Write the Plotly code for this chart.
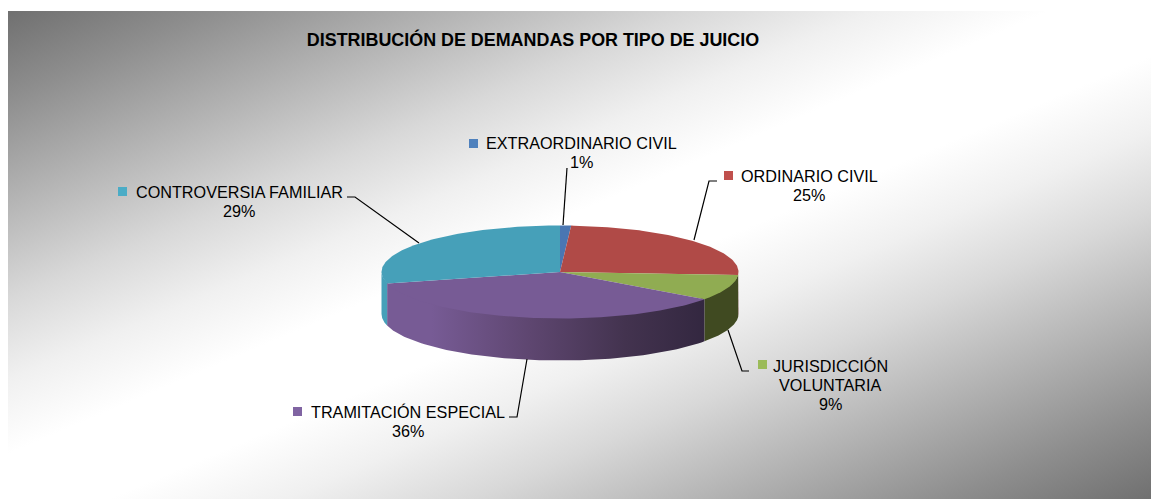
import base64
import numpy as np
import plotly.graph_objects as go

categories = ["EXTRAORDINARIO CIVIL", "ORDINARIO CIVIL", "JURISDICCIÓN<br>VOLUNTARIA",
              "TRAMITACIÓN ESPECIAL", "CONTROVERSIA FAMILIAR"]
values = [1, 25, 9, 36, 29]
top_colors = ["#4a76b2", "#b04a47", "#90ac52", "#775b95", "#46a0b9"]
key_colors = ["#4f81bd", "#c0504d", "#9bbb59", "#8064a2", "#4bacc6"]
wall_colors = ["#2a4468", "#6a2c2a", "#404a21", "#775b95", "#46a0b9"]
title = "DISTRIBUCIÓN DE DEMANDAS POR TIPO DE JUICIO"

W, H = 1151, 499
CX, CY, RX, RY, DEPTH = 560, 272, 178.5, 46.5, 42
FONT = "Liberation Sans"

# background
x0, y0 = 8, 11
mx, my = (x0 + W) / 2, (y0 + H) / 2
dx, dy = 0.391, 0.92
L = 448
stops = [(0, "#707070"), (0.09, "#8e8e8e"), (0.296, "#d8d8d8"), (0.378, "#f0f0f0"), (0.455, "#ffffff"),
         (0.545, "#ffffff"), (0.622, "#f0f0f0"), (0.704, "#d8d8d8"), (0.91, "#8e8e8e"), (1, "#707070")]
stop_xml = "".join(f'<stop offset="{o}" stop-color="{c}"/>' for o, c in stops)
svg = f'''<svg xmlns="http://www.w3.org/2000/svg" width="{W}" height="{H}" viewBox="0 0 {W} {H}">
<defs><linearGradient id="g" gradientUnits="userSpaceOnUse" x1="{mx-dx*L}" y1="{my-dy*L}" x2="{mx+dx*L}" y2="{my+dy*L}">
{stop_xml}
</linearGradient></defs>
<rect x="{x0}" y="{y0}" width="{W-x0}" height="{H-y0}" fill="url(#g)"/></svg>'''
bg = "data:image/svg+xml;base64," + base64.b64encode(svg.encode()).decode()


def pt(a, dz=0.0):
    return CX + RX * np.sin(a), CY - RY * np.cos(a) + dz


fracs = np.array(values) / sum(values)
ends = np.cumsum(fracs) * 2 * np.pi
starts = ends - fracs * 2 * np.pi

fig = go.Figure()

# walls (front half only); the upper edge runs a little under the top faces to avoid a seam
for i in range(len(values)):
    a0, a1 = max(starts[i], np.pi / 2), min(ends[i], 3 * np.pi / 2)
    if a1 <= a0:
        continue
    a = np.linspace(a0, a1, 80)
    xt, yt = pt(a, 3 * np.cos(a))
    xb, yb = pt(a[::-1], DEPTH)
    kw = dict(fillcolor=wall_colors[i])
    if i == 3:
        x_a, x_b = float(xt.min()), float(xt.max())
        kw = dict(fillgradient=dict(
            type="horizontal", start=x_a, stop=x_b,
            colorscale=[[0, "#775b95"], [0.14, "#775b95"], [0.45, "#5e4670"],
                        [0.75, "#43334f"], [1, "#332740"]]))
    fig.add_trace(go.Scatter(x=np.r_[xt, xb], y=np.r_[yt, yb], mode="lines", fill="toself",
                             line=dict(width=0), hoverinfo="skip", showlegend=False, **kw))

# top faces
for i in range(len(values)):
    a = np.linspace(starts[i], ends[i], max(int(fracs[i] * 400), 8))
    xt, yt = pt(a)
    fig.add_trace(go.Scatter(x=np.r_[CX, xt, CX], y=np.r_[CY, yt, CY], mode="lines", fill="toself",
                             fillcolor=top_colors[i], line=dict(width=0),
                             hoverinfo="skip", showlegend=False))

# leader lines
leaders = [
    [(567, 168), (563, 225)],
    [(717, 181), (709, 181), (694, 240)],
    [(749, 371), (742, 371), (728, 330)],
    [(509, 417), (517, 417), (527, 359)],
    [(347, 197), (355, 197), (419, 243)],
]
shapes = []
for pts in leaders:
    path = "M " + " L ".join(f"{x} {y}" for x, y in pts)
    shapes.append(dict(type="path", path=path, line=dict(color="#000000", width=1.2), layer="above"))

# legend keys
keys = [(469, 139), (724, 171), (758, 360), (293, 407), (118, 187)]
for (kx, ky), c in zip(keys, key_colors):
    shapes.append(dict(type="rect", x0=kx, x1=kx + 9, y0=ky, y1=ky + 9, fillcolor=c, line=dict(width=0)))

# labels: centre x, vertical centre of the first line
label_pos = [(581, 143), (809, 176), (830, 366), (408, 412), (239, 192)]
LINE = 19
ann = []
for cat, v, (lx, ly) in zip(categories, values, label_pos):
    for j, line in enumerate(cat.split("<br>") + [f"{v}%"]):
        ann.append(dict(x=lx, y=ly + j * LINE, xref="x", yref="y", xanchor="center", yanchor="middle",
                        showarrow=False, text=line,
                        font=dict(family=FONT, size=16.2, color="#000000")))

fig.update_layout(
    width=W, height=H, margin=dict(l=0, r=0, t=0, b=0),
    paper_bgcolor="white", plot_bgcolor="rgba(0,0,0,0)",
    xaxis=dict(range=[0, W], visible=False, fixedrange=True),
    yaxis=dict(range=[H, 0], visible=False, fixedrange=True),
    images=[dict(source=bg, xref="paper", yref="paper", x=0, y=1, sizex=1, sizey=1,
                 xanchor="left", yanchor="top", sizing="stretch", layer="below")],
    shapes=shapes, annotations=ann,
    title=dict(text=f"<b>{title}</b>", x=533 / W, xanchor="center", y=1 - 40 / H, yanchor="middle",
               font=dict(family=FONT, size=17.9, color="#000000")),
    showlegend=False,
)
fig.write_html("out.html", config=dict(displayModeBar=False),
               post_script="document.body.style.margin='0';document.documentElement.style.overflow='hidden';")
